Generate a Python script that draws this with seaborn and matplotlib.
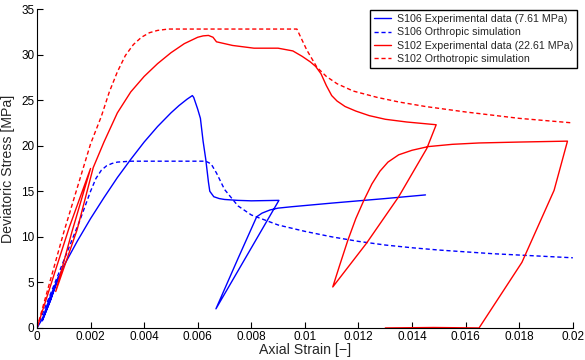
import pandas as pd
import seaborn as sns
import matplotlib.pyplot as plt
from matplotlib.ticker import FuncFormatter

# S106 experimental (confining 7.61 MPa) - path with load/unload loops
s106_exp_strain = [0, 0.0002, 0.0005, 0.0008, 0.0005, 0.0002, 0.0005, 0.0008, 0.001, 0.0015,
                   0.002, 0.0025, 0.003, 0.0035, 0.004, 0.0045, 0.005, 0.0053, 0.0056, 0.0058,
                   0.00585, 0.006, 0.0061, 0.0062, 0.0063, 0.0064, 0.00645, 0.0066, 0.0068, 0.007,
                   0.0075, 0.008, 0.009, 0.00903, 0.00668, 0.0075, 0.0082, 0.0084, 0.0087, 0.009,
                   0.0095, 0.011, 0.013, 0.0145]
s106_exp_stress = [0, 1.0, 3.5, 5.6, 3.0, 0.8, 3.0, 5.5, 6.8, 9.5,
                   12.0, 14.3, 16.5, 18.5, 20.4, 22.1, 23.6, 24.4, 25.1, 25.5,
                   25.3, 24.0, 23.0, 20.5, 18.5, 16.0, 15.0, 14.4, 14.2, 14.1,
                   14.0, 13.95, 14.0, 14.0, 2.1, 7.6, 12.2, 12.6, 12.95, 13.15,
                   13.3, 13.7, 14.2, 14.6]

# S106 simulation
s106_sim_strain = [0, 0.0005, 0.001, 0.0016, 0.002, 0.0022, 0.0024, 0.0026, 0.0028, 0.003,
                   0.0035, 0.004, 0.0063, 0.0065, 0.0067, 0.007, 0.0075, 0.008, 0.009, 0.01,
                   0.011, 0.012, 0.013, 0.014, 0.015, 0.016, 0.017, 0.018, 0.019, 0.02]
s106_sim_stress = [0, 3.7, 7.4, 11.8, 15.0, 16.4, 17.3, 17.8, 18.05, 18.2,
                   18.3, 18.3, 18.3, 18.0, 17.0, 15.2, 13.4, 12.4, 11.3, 10.6,
                   10.0, 9.5, 9.1, 8.8, 8.55, 8.35, 8.15, 8.0, 7.85, 7.7]

# S102 experimental (confining 22.61 MPa)
s102_exp_strain = [0, 0.0006, 0.0012, 0.002, 0.0013, 0.0007, 0.0015, 0.0021, 0.0025, 0.003,
                   0.0035, 0.004, 0.0045, 0.005, 0.0055, 0.006, 0.0062, 0.0064, 0.00657, 0.0067,
                   0.0073, 0.0081, 0.009, 0.00955, 0.0099, 0.0102, 0.0104, 0.0106, 0.0108, 0.011,
                   0.0112, 0.0115, 0.0119, 0.0124, 0.013, 0.0138, 0.0149, 0.01455, 0.0135, 0.0123,
                   0.01104, 0.0113, 0.0116, 0.0119, 0.0122, 0.0125, 0.0128, 0.0131, 0.0135, 0.014,
                   0.0146, 0.0155, 0.0165, 0.018, 0.0198, 0.0193, 0.0181, 0.0165, 0.0148, 0.013]
s102_exp_stress = [0, 5.5, 11.0, 17.5, 10.5, 4.0, 10.8, 17.6, 20.4, 23.6,
                   25.9, 27.6, 29.0, 30.2, 31.2, 31.9, 32.05, 32.1, 31.9, 31.4,
                   31.0, 30.7, 30.7, 30.4, 29.8, 29.2, 28.7, 27.9, 26.6, 25.5,
                   24.9, 24.3, 23.8, 23.3, 22.9, 22.6, 22.3, 19.7, 14.4, 9.3,
                   4.5, 6.9, 9.6, 12.0, 14.0, 15.8, 17.2, 18.2, 19.0, 19.5,
                   19.9, 20.15, 20.3, 20.4, 20.5, 15.1, 7.2, 0.0, 0.05, 0.0]

# S102 simulation
s102_sim_strain = [0, 0.001, 0.002, 0.0024, 0.0027, 0.003, 0.0033, 0.0036, 0.0039, 0.0042,
                   0.0045, 0.0049, 0.0097, 0.01007, 0.01045, 0.0108, 0.0112, 0.0118, 0.0127, 0.0135,
                   0.0145, 0.016, 0.018, 0.02]
s102_sim_stress = [0, 10.5, 20.2, 23.2, 25.9, 28.1, 29.9, 31.1, 31.9, 32.4,
                   32.65, 32.8, 32.8, 30.5, 28.6, 27.6, 26.8, 26.0, 25.3, 24.8,
                   24.3, 23.7, 23.0, 22.5]

series = [
    ("S106 Experimental data (7.61 MPa)", s106_exp_strain, s106_exp_stress, "blue", "-"),
    ("S106 Orthropic simulation", s106_sim_strain, s106_sim_stress, "blue", "--"),
    ("S102 Experimental data (22.61 MPa)", s102_exp_strain, s102_exp_stress, "red", "-"),
    ("S102 Orthotropic simulation", s102_sim_strain, s102_sim_stress, "red", "--"),
]

sns.set_style("white")
plt.rcParams['font.family'] = ['Liberation Sans', 'DejaVu Sans']

fig = plt.figure(figsize=(5.85, 3.6), dpi=100)
ax = fig.add_axes([0.0632, 0.089, 0.916, 0.886])

for name, xs, ys, color, ls in series:
    df = pd.DataFrame({"strain": xs, "stress": ys})
    sns.lineplot(data=df, x="strain", y="stress", sort=False, estimator=None,
                 color=color, linewidth=1.0, label=name, ax=ax)
    if ls == "--":
        ax.lines[-1].set_dashes((3, 2))

ax.set_xlim(0, 0.02)
ax.set_ylim(0, 35)
ax.set_xticks([0.002 * i for i in range(11)])
ax.set_yticks(range(0, 36, 5))
ax.xaxis.set_major_formatter(FuncFormatter(lambda v, p: "%g" % round(v, 4)))
ax.tick_params(direction="in", length=4, width=0.8, labelsize=8.5, pad=2,
               bottom=True, left=True, colors="black")
ax.set_xlabel("Axial Strain [\u2212]", fontsize=10.2, labelpad=0)
ax.set_ylabel("Deviatoric Stress [MPa]", fontsize=10.2, labelpad=4)
for s in ["top", "right"]:
    ax.spines[s].set_visible(False)
for s in ["left", "bottom"]:
    ax.spines[s].set_color("black")
    ax.spines[s].set_linewidth(0.8)

leg = ax.legend(loc="upper right", bbox_to_anchor=(1.008, 0.997), fontsize=7.7,
                frameon=True, fancybox=False, framealpha=1, handlelength=1.6,
                borderpad=0.4, labelspacing=0.3, handletextpad=0.5, borderaxespad=0)
leg.get_frame().set_edgecolor("black")
leg.get_frame().set_linewidth(1.0)

fig.savefig("out.png", dpi=100)
